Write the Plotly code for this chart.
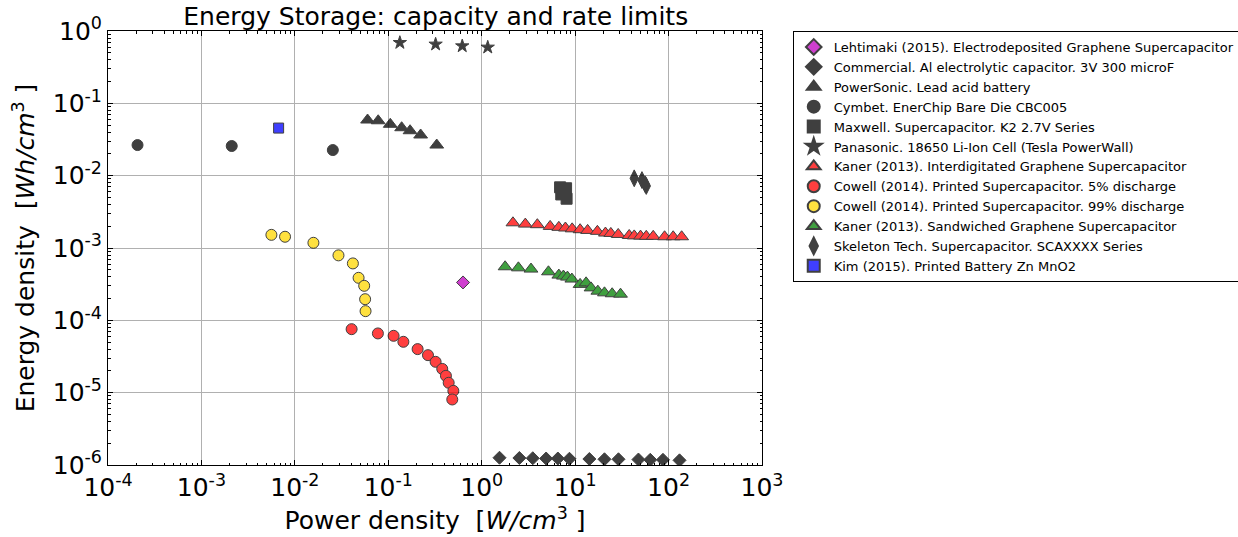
import plotly.graph_objects as go

# ---------------- data ----------------
lehtimaki_x = [0.631]
lehtimaki_y = [3.34e-4]

commercial_x = [1.55, 2.53, 3.52, 4.89, 6.53, 8.69, 14.2, 20.6, 29.1, 47.6, 63.7, 87.1, 131]
commercial_y = [1.26e-6, 1.25e-6, 1.24e-6, 1.23e-6, 1.23e-6, 1.22e-6, 1.21e-6, 1.20e-6,
                1.20e-6, 1.19e-6, 1.18e-6, 1.18e-6, 1.16e-6]

powersonic_x = [0.060, 0.078, 0.105, 0.139, 0.171, 0.222, 0.330]
powersonic_y = [0.0588, 0.0574, 0.0513, 0.046, 0.0418, 0.0365, 0.0265]

cymbet_x = [2.07e-4, 2.11e-3, 0.0255]
cymbet_y = [0.0265, 0.0257, 0.0226]

maxwell_x = [6.9, 8.0, 7.1, 8.1, 7.5]
maxwell_y = [6.9e-3, 6.7e-3, 5.5e-3, 4.8e-3, 6.2e-3]

panasonic_x = [0.133, 0.321, 0.619, 1.16]
panasonic_y = [0.689, 0.655, 0.62, 0.595]

kaner_inter_x = [2.16, 2.93, 3.94, 5.40, 6.69, 7.87, 9.29, 11.3, 13.6, 17.3, 21.1, 24.1,
                 28.9, 37.9, 42.9, 50.1, 57.7, 68.5, 90.6, 112, 138]
kaner_inter_y = [2.23e-3, 2.14e-3, 2.10e-3, 1.99e-3, 1.93e-3, 1.89e-3, 1.84e-3, 1.79e-3,
                 1.75e-3, 1.70e-3, 1.61e-3, 1.59e-3, 1.54e-3, 1.49e-3, 1.47e-3, 1.46e-3,
                 1.45e-3, 1.45e-3, 1.43e-3, 1.43e-3, 1.43e-3]

cowell5_x = [0.0405, 0.0774, 0.114, 0.145, 0.206, 0.266, 0.321, 0.378, 0.414, 0.443, 0.497, 0.484]
cowell5_y = [7.55e-5, 6.59e-5, 6.11e-5, 5.05e-5, 4.00e-5, 3.30e-5, 2.67e-5, 2.13e-5,
             1.71e-5, 1.37e-5, 1.06e-5, 8.05e-6]

cowell99_x = [5.61e-3, 7.85e-3, 0.0158, 0.0293, 0.0418, 0.0481, 0.0552, 0.0565, 0.0571]
cowell99_y = [1.52e-3, 1.43e-3, 1.18e-3, 7.91e-4, 6.12e-4, 3.87e-4, 3.00e-4, 1.96e-4, 1.34e-4]

kaner_sand_x = [1.78, 2.47, 3.37, 5.18, 6.69, 7.49, 8.27, 9.22, 11.3, 13.1, 14.8, 17.5,
                20.6, 24.9, 30.6]
kaner_sand_y = [5.50e-4, 5.32e-4, 5.11e-4, 4.69e-4, 4.22e-4, 4.09e-4, 3.96e-4, 3.72e-4,
                3.14e-4, 3.30e-4, 2.81e-4, 2.53e-4, 2.40e-4, 2.33e-4, 2.30e-4]

skeleton_x = [42.9, 51.9, 56.3, 57.7]
skeleton_y = [9.2e-3, 8.7e-3, 7.6e-3, 7.2e-3]

kim_x = [6.7e-3]
kim_y = [0.0455]

x_tick_vals = [1e-4, 1e-3, 1e-2, 1e-1, 1e0, 1e1, 1e2, 1e3]
x_tick_text = ["10<sup>-4</sup>", "10<sup>-3</sup>", "10<sup>-2</sup>", "10<sup>-1</sup>",
               "10<sup>0</sup>", "10<sup>1</sup>", "10<sup>2</sup>", "10<sup>3</sup>"]
y_tick_vals = [1e-6, 1e-5, 1e-4, 1e-3, 1e-2, 1e-1, 1e0]
y_tick_text = ["10<sup>-6</sup>", "10<sup>-5</sup>", "10<sup>-4</sup>", "10<sup>-3</sup>",
               "10<sup>-2</sup>", "10<sup>-1</sup>", "10<sup>0</sup>"]

# ---------------- figure ----------------
series = [
    ("Lehtimaki (2015). Electrodeposited Graphene Supercapacitor", lehtimaki_x, lehtimaki_y,
     "diamond", "#bf00bf", 10),
    ("Commercial. Al electrolytic capacitor. 3V 300 microF", commercial_x, commercial_y,
     "diamond", "black", 10),
    ("PowerSonic. Lead acid battery", powersonic_x, powersonic_y, "triangle-up", "black", 12),
    ("Cymbet. EnerChip Bare Die CBC005", cymbet_x, cymbet_y, "circle", "black", 11),
    ("Maxwell. Supercapacitor. K2 2.7V Series", maxwell_x, maxwell_y, "square", "black", 11),
    ("Panasonic. 18650 Li-Ion Cell (Tesla PowerWall)", panasonic_x, panasonic_y, "star", "black", 10),
    ("Kaner (2013). Interdigitated Graphene Supercapacitor", kaner_inter_x, kaner_inter_y,
     "triangle-up", "red", 12),
    ("Cowell (2014). Printed Supercapacitor. 5% discharge", cowell5_x, cowell5_y, "circle", "red", 11),
    ("Cowell (2014). Printed Supercapacitor. 99% discharge", cowell99_x, cowell99_y,
     "circle", "gold", 11),
    ("Kaner (2013). Sandwiched Graphene Supercapacitor", kaner_sand_x, kaner_sand_y,
     "triangle-up", "green", 12),
    ("Skeleton Tech. Supercapacitor. SCAXXXX Series", skeleton_x, skeleton_y,
     "diamond-tall", "black", 12),
    ("Kim (2015). Printed Battery Zn MnO2", kim_x, kim_y, "square", "blue", 10),
]

fig = go.Figure()
for name, xs, ys, sym, col, sz in series:
    fig.add_trace(go.Scatter(
        x=xs, y=ys, mode="markers", name=name, opacity=0.75,
        marker=dict(symbol=sym, color=col, size=sz,
                    line=dict(color="black", width=1)),
    ))

FONT = "DejaVu Sans"
axis_common = dict(
    type="log", showline=True, linecolor="black", linewidth=1, mirror="allticks",
    ticks="inside", ticklen=5, tickcolor="black", showgrid=True, gridcolor="#b0b0b0",
    gridwidth=1, zeroline=False, automargin=False,
    tickfont=dict(family=FONT, size=25, color="black"),
    minor=dict(ticks="inside", ticklen=2.5, tickcolor="black", dtick="D1", showgrid=False),
)

fig.update_xaxes(axis_common, range=[-4, 3], tickmode="array", tickvals=x_tick_vals,
                 ticktext=x_tick_text,
                 title=dict(text="Power density  [<i>W/cm</i><sup>3</sup> ]",
                            font=dict(family=FONT, size=25, color="black"),
                            standoff=10))
fig.update_yaxes(axis_common, range=[-6, 0], tickmode="array", tickvals=y_tick_vals,
                 ticktext=y_tick_text,
                 title=dict(text="Energy density  [<i>Wh/cm</i><sup>3</sup> ]",
                            font=dict(family=FONT, size=25, color="black"),
                            standoff=10))

fig.update_layout(
    width=1238, height=537,
    margin=dict(l=108, r=476, t=31, b=72, autoexpand=False),
    paper_bgcolor="white", plot_bgcolor="white",
    title=dict(text="Energy Storage: capacity and rate limits", x=0.352, xanchor="center",
               y=0.97, yanchor="middle", yref="container",
               font=dict(family=FONT, size=25, color="black")),
    legend=dict(x=1.047, y=1.0, xanchor="left", yanchor="top",
                bordercolor="black", borderwidth=1, bgcolor="white",
                font=dict(family=FONT, size=13, color="black"),
                itemsizing="constant", tracegroupgap=0),
    showlegend=True,
)

fig.write_html("out.html")
